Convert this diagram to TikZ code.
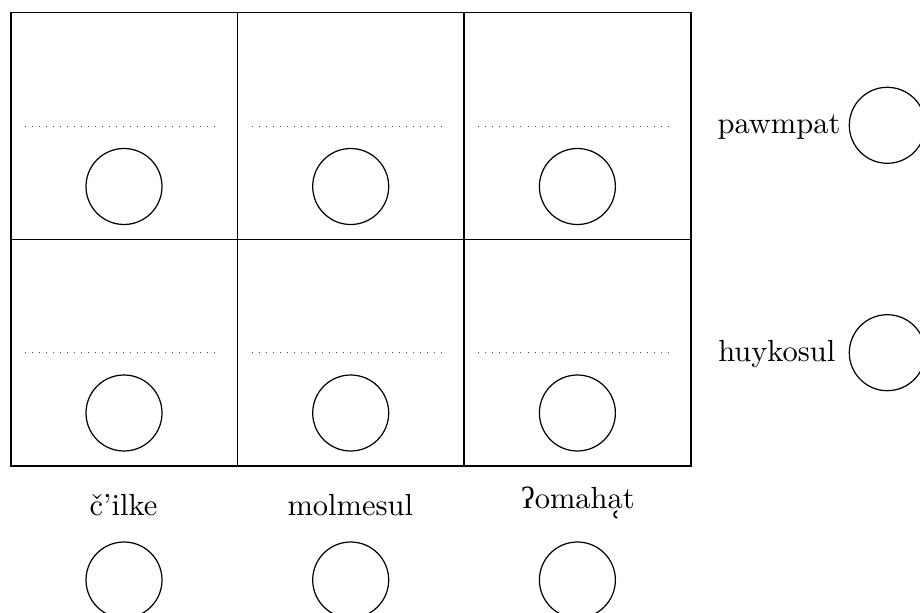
\documentclass[tikz,border=0pt]{standalone}
\usepackage{fontspec}
\newfontfamily\ipafont{Liberation Serif}
\newfontfamily\markfont{DejaVu Serif}
\begin{document}
\begin{tikzpicture}[x=0.32787pt,y=-0.32787pt,
  ring/.style={draw,circle,minimum size=76*0.32787pt,inner sep=0pt},
  lab/.style={inner sep=0pt,font=\normalsize},
  guide/.style={dotted,line width=0.3pt,black!70}]
\useasboundingbox (0,0) rectangle (920,613);
% grid
\draw (11,12.7) rectangle (691,466);
\draw (237.3,12.7) -- (237.3,466);
\draw (464,12.7) -- (464,466);
\draw (11,239.3) -- (691,239.3);
% dotted guides
\foreach \cx in {0,226.7,453.4}{
  \draw[guide] (25+\cx,126) -- (218+\cx,126);
  \draw[guide] (25+\cx,352.7) -- (218+\cx,352.7);
}
% circles in cells
\node[ring] (c11) at (124,186.5) {};
\node[ring] (c12) at (350.7,186.5) {};
\node[ring] (c13) at (577.4,186.5) {};
\node[ring] (c21) at (124,413) {};
\node[ring] (c22) at (350.7,413) {};
\node[ring] (c23) at (577.4,413) {};
% right side
\node[ring] (r1) at (887.3,125.3) {};
\node[ring] (r2) at (887.3,352.7) {};
\node[lab,anchor=base east] (l1) at (841,133.3) {pawmpat};
\node[lab,anchor=base east] (l2) at (836,361) {huykosul};
% bottom
\node[lab,anchor=base] (b1) at (123.5,515) {č’ilke};
\node[lab,anchor=base] (b2) at (350.3,515) {molmesul};
\node[lab,anchor=base] (b3) at (578,508) {{\ipafont ʔ}omaha{\markfont ̜}t};
\node[ring] (d1) at (124,580) {};
\node[ring] (d2) at (350.7,580) {};
\node[ring] (d3) at (577.4,580) {};
\end{tikzpicture}
\end{document}
